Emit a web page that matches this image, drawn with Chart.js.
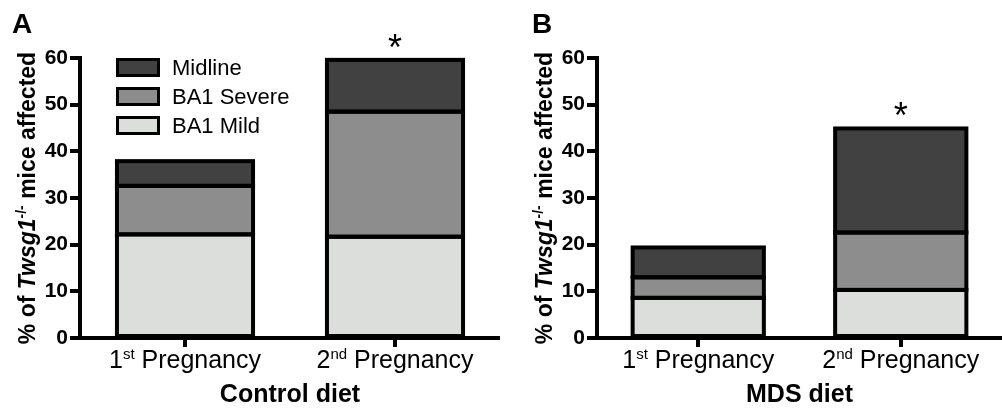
<!DOCTYPE html>
<html>
<head>
<meta charset="utf-8">
<script src="https://cdn.jsdelivr.net/npm/chart.js@4"></script>
<style>
  html, body { margin: 0; padding: 0; background: #fff; }
  #wrap { position: relative; width: 1002px; height: 408px; }
  canvas { position: absolute; top: 0; }
</style>
</head>
<body>
<div id="wrap">
  <canvas id="chartA" width="500" height="408" style="left:0"></canvas>
  <canvas id="chartB" width="502" height="408" style="left:500px"></canvas>
</div>
<script>
// data (% of Twsg1-/- mice affected)
const categories = ['1st Pregnancy', '2nd Pregnancy']
const seriesNames = ['BA1 Mild', 'BA1 Severe', 'Midline']

const controlMild = [22.2, 21.7]
const controlSevere = [10.4, 26.8]
const controlMidline = [5.3, 11.1]

const mdsMild = [8.6, 10.3]
const mdsSevere = [4.4, 12.3]
const mdsMidline = [6.4, 22.3]

// significance marks per category
const controlMarks = ['', '*']
const mdsMarks = ['', '*']

const yMin = 0
const yMax = 60
const yStep = 10

const FAMILY = '"Liberation Sans", Arial, sans-serif'
const fills = ['#dcdedc', '#8d8d8d', '#414141']

// draw a row of text pieces (font / vertical shift) as one line
function drawRuns(ctx, runs, x, y, align) {
  let total = 0
  runs.forEach(r => { ctx.font = r.font; total += ctx.measureText(r.text).width })
  let cx = align === 'center' ? x - total / 2 : x
  ctx.textAlign = 'left'
  ctx.textBaseline = 'alphabetic'
  runs.forEach(r => {
    ctx.font = r.font
    ctx.fillText(r.text, cx, y + (r.dy || 0))
    cx += ctx.measureText(r.text).width
  })
}

// black outline round every stacked segment, taken from the bar elements
const outlines = {
  id: 'outlines',
  afterDatasetsDraw(chart) {
    const ctx = chart.ctx
    ctx.save()
    ctx.strokeStyle = '#000'
    ctx.lineWidth = 4
    chart.data.datasets.forEach((ds, i) => {
      chart.getDatasetMeta(i).data.forEach(el => {
        const { x, y, base, width } = el.getProps(['x', 'y', 'base', 'width'], true)
        ctx.strokeRect(x - width / 2, y, width, base - y)
      })
    })
    ctx.restore()
  }
}

const decor = {
  id: 'decor',
  afterDraw(chart, args, opts) {
    const { ctx, chartArea, scales: { x, y } } = chart
    ctx.save()
    ctx.fillStyle = '#000'

    // panel letter
    ctx.font = 'bold 28px ' + FAMILY
    ctx.textAlign = 'left'
    ctx.textBaseline = 'alphabetic'
    ctx.fillText(opts.letter, opts.letterX, 33)

    // y title, rotated
    ctx.save()
    ctx.translate(chartArea.left - 45, (chartArea.top + chartArea.bottom) / 2)
    ctx.rotate(-Math.PI / 2)
    drawRuns(ctx, [
      { text: '% of ', font: 'bold 23px ' + FAMILY },
      { text: 'Twsg1', font: 'italic bold 23px ' + FAMILY },
      { text: '-/-', font: 'bold 14px ' + FAMILY, dy: -9 },
      { text: ' mice affected', font: 'bold 23px ' + FAMILY }
    ], 0, 0, 'center')
    ctx.restore()

    // category labels with superscript ordinals
    chart.data.labels.forEach((lab, i) => {
      const m = lab.match(/^(\d+)(st|nd|rd|th) (.*)$/)
      const px = x.getPixelForValue(i)
      drawRuns(ctx, [
        { text: m[1], font: '25px ' + FAMILY },
        { text: m[2], font: '15px ' + FAMILY, dy: -9 },
        { text: ' ' + m[3], font: '25px ' + FAMILY }
      ], px, 368, 'center')
    })

    // x title
    ctx.font = 'bold 25px ' + FAMILY
    ctx.textAlign = 'center'
    ctx.fillText(opts.xTitle, (chartArea.left + chartArea.right) / 2, 402)

    // significance stars above stacks
    opts.marks.forEach((mk, i) => {
      if (!mk) return
      let total = 0
      chart.data.datasets.forEach(ds => { total += ds.data[i] })
      ctx.font = '36px ' + FAMILY
      ctx.textAlign = 'center'
      ctx.fillText(mk, x.getPixelForValue(i), y.getPixelForValue(total))
    })

    // legend (top series first)
    if (opts.legend) {
      const dsList = chart.data.datasets.slice().reverse()
      dsList.forEach((ds, k) => {
        const top = 58 + k * 29
        ctx.fillStyle = '#000'
        ctx.fillRect(116, top, 44, 19)
        ctx.fillStyle = ds.backgroundColor
        ctx.fillRect(119, top + 3, 38, 13)
        ctx.fillStyle = '#000'
        ctx.font = '22px ' + FAMILY
        ctx.textAlign = 'left'
        ctx.fillText(ds.label, 172, top + 17)
      })
    }
    ctx.restore()
  }
}

function makeChart(id, series, opts) {
  const ctx = document.getElementById(id).getContext('2d')
  return new Chart(ctx, {
    type: 'bar',
    data: {
      labels: categories,
      datasets: series.map((vals, i) => ({
        label: seriesNames[i],
        data: vals,
        backgroundColor: fills[i],
        borderWidth: 0,
        barPercentage: 0.648,
        categoryPercentage: 1
      }))
    },
    options: {
      responsive: false,
      animation: false,
      layout: { padding: { top: 58, right: 0, bottom: 0, left: 0 } },
      plugins: {
        legend: { display: false },
        tooltip: { enabled: false },
        decor: opts
      },
      scales: {
        x: {
          stacked: true,
          ticks: { color: 'rgba(0,0,0,0)' },
          grid: { offset: false, drawOnChartArea: false, tickLength: 9, color: '#000', lineWidth: 4 },
          border: { color: '#000', width: 4 },
          afterFit: s => { s.height = 70 }
        },
        y: {
          stacked: true,
          min: yMin,
          max: yMax,
          ticks: {
            stepSize: yStep,
            color: '#000',
            padding: 2,
            font: { family: FAMILY, size: 21, weight: 'bold' }
          },
          grid: { drawOnChartArea: false, tickLength: 10, color: '#000', lineWidth: 4 },
          border: { color: '#000', width: 4 },
          afterFit: s => { s.width = opts.yWidth }
        }
      }
    },
    plugins: [outlines, decor]
  })
}

makeChart('chartA', [controlMild, controlSevere, controlMidline], {
  letter: 'A', letterX: 12, xTitle: 'Control diet', marks: controlMarks, legend: true, yWidth: 80
})
makeChart('chartB', [mdsMild, mdsSevere, mdsMidline], {
  letter: 'B', letterX: 32, xTitle: 'MDS diet', marks: mdsMarks, legend: false, yWidth: 97
})
</script>
</body>
</html>
